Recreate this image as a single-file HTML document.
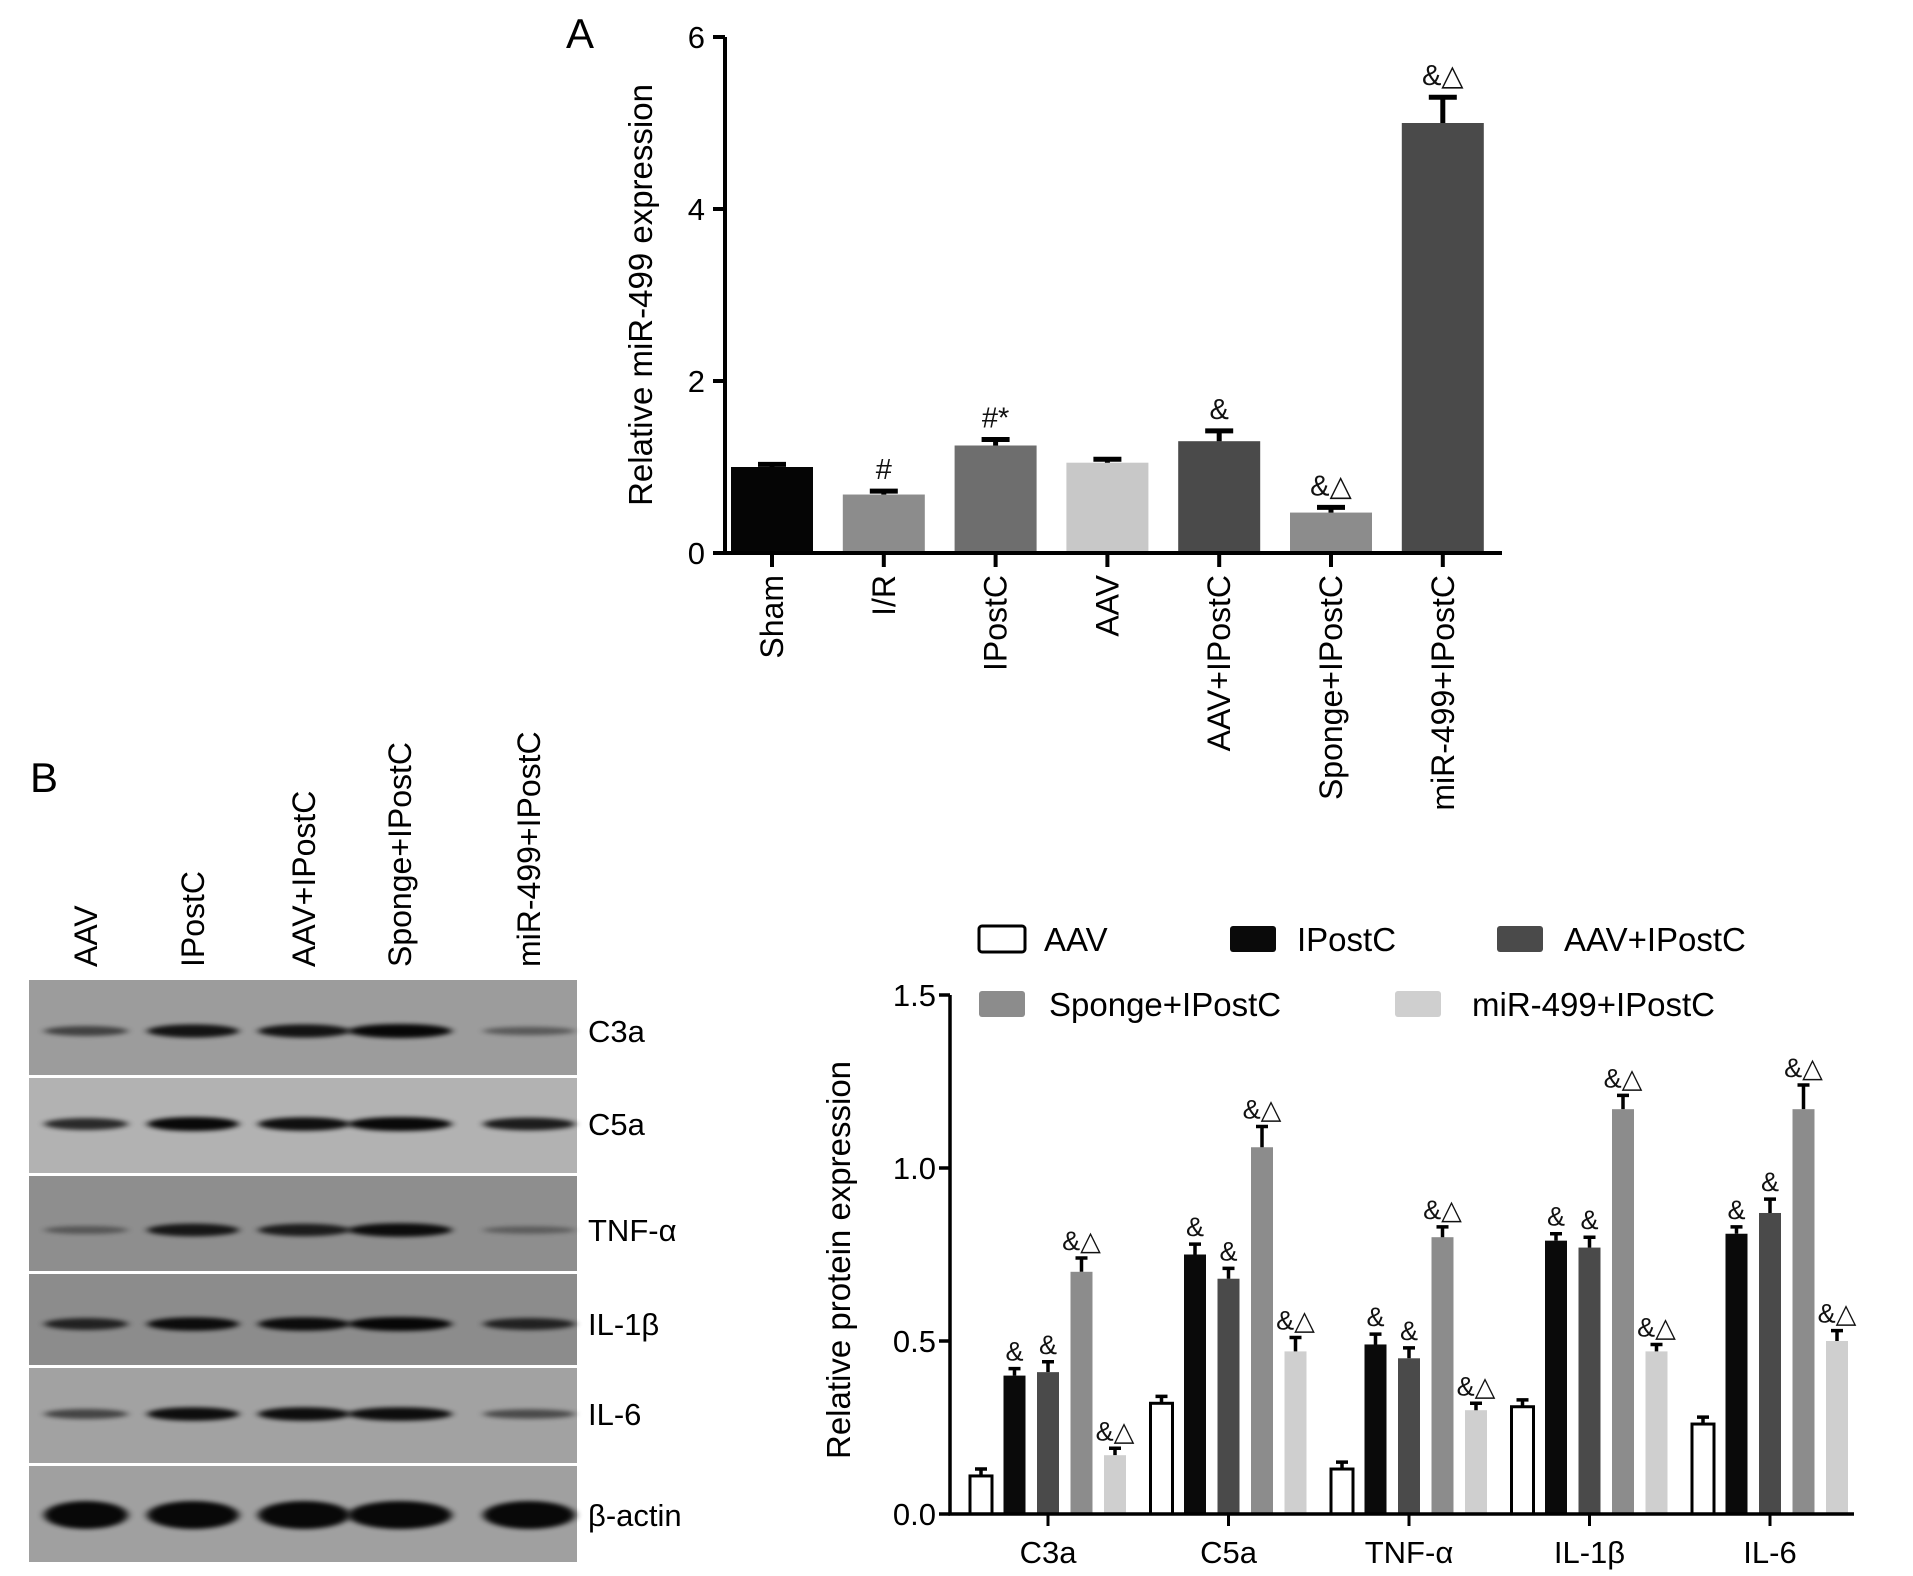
<!DOCTYPE html>
<html><head><meta charset="utf-8"><style>
html,body{margin:0;padding:0;background:#fff;}
svg{display:block;font-family:"Liberation Sans",sans-serif;}
</style></head><body>
<svg id="fig" width="1913" height="1576" viewBox="0 0 1913 1576">
<defs>
<filter id="blur" x="-20%" y="-100%" width="140%" height="300%"><feGaussianBlur stdDeviation="4 2"/></filter>
</defs>
<text x="566" y="48" font-size="42" fill="#000">A</text>
<text x="30" y="792" font-size="42" fill="#000">B</text>
<g id="chartA"></g>
<g id="blot"></g>
<g id="chartB"></g>
</svg>
<script>
const NS='http://www.w3.org/2000/svg';
function mk(parent,tag,attrs,text){const e=document.createElementNS(NS,tag);for(const k in attrs)e.setAttribute(k,attrs[k]);if(text!==undefined)e.textContent=text;parent.appendChild(e);return e;}

// ---- Chart A data ----
const catsA=['Sham','I/R','IPostC','AAV','AAV+IPostC','Sponge+IPostC','miR-499+IPostC'];
const valsA=[1.0,0.68,1.25,1.05,1.3,0.47,5.0];
const errsA=[0.03,0.04,0.07,0.04,0.12,0.06,0.3];
const marksA=['','#','#*','','&','&\u25B3','&\u25B3'];
const ticksA=[0,2,4,6];
const colorsA=['#050505','#8c8c8c','#6e6e6e','#c8c8c8','#4a4a4a','#8c8c8c','#4a4a4a'];

// ---- Chart B data ----
const catsB=['C3a','C5a','TNF-\u03B1','IL-1\u03B2','IL-6'];
const seriesB=['AAV','IPostC','AAV+IPostC','Sponge+IPostC','miR-499+IPostC'];
const vAAV=[0.11,0.32,0.13,0.31,0.26];
const vIPostC=[0.40,0.75,0.49,0.79,0.81];
const vAAVIPostC=[0.41,0.68,0.45,0.77,0.87];
const vSponge=[0.70,1.06,0.80,1.17,1.17];
const vMiR=[0.17,0.47,0.30,0.47,0.50];
const eAAV=[0.02,0.02,0.02,0.02,0.02];
const eIPostC=[0.02,0.03,0.03,0.02,0.02];
const eAAVIPostC=[0.03,0.03,0.03,0.03,0.04];
const eSponge=[0.04,0.06,0.03,0.04,0.07];
const eMiR=[0.02,0.04,0.02,0.02,0.03];
const mAAV=['','','','',''];
const mIPostC=['&','&','&','&','&'];
const mAAVIPostC=['&','&','&','&','&'];
const mSponge=['&\u25B3','&\u25B3','&\u25B3','&\u25B3','&\u25B3'];
const mMiR=['&\u25B3','&\u25B3','&\u25B3','&\u25B3','&\u25B3'];
const ticksB=['0.0','0.5','1.0','1.5'];
const fillsB=['#ffffff','#0a0a0a','#4a4a4a','#8c8c8c','#cfcfcf'];

// ---- Blot data ----
const lanes=['AAV','IPostC','AAV+IPostC','Sponge+IPostC','miR-499+IPostC'];
const proteins=['C3a','C5a','TNF-\u03B1','IL-1\u03B2','IL-6','\u03B2-actin'];
const bandC3a=[0.5,0.9,0.9,1.0,0.3];
const bandC5a=[0.75,1.0,0.95,1.0,0.85];
const bandTNF=[0.25,0.85,0.8,0.95,0.2];
const bandIL1b=[0.75,0.95,0.95,1.0,0.75];
const bandIL6=[0.5,0.95,0.95,0.95,0.45];
const bandActin=[1.0,1.0,1.0,1.0,1.0];

// ===== Chart A =====
(function(){
  const g=document.getElementById('chartA');
  const ax=725,y0=553,yTop=37,xEnd=1502,vmax=6;
  const y=v=>y0-(v/vmax)*(y0-yTop);
  const x=i=>772+i*111.8;
  const bw=82;
  catsA.forEach((c,i)=>{
    const cx=x(i),top=y(valsA[i]),et=y(valsA[i]+errsA[i]);
    const b=mk(g,'rect',{x:cx-bw/2,y:top,width:bw,height:y0-top,fill:colorsA[i]});
    
    
    const e=mk(g,'path',{d:`M${cx} ${top}V${et}M${cx-14} ${et}H${cx+14}`,stroke:'#000','stroke-width':5,fill:'none'});
    
    
    if(marksA[i]){const t=mk(g,'text',{x:cx,y:et-12,'font-size':29,'text-anchor':'middle',fill:'#111'},marksA[i]);
      
      }
    const tk=mk(g,'line',{x1:cx,y1:y0,x2:cx,y2:y0+14,stroke:'#000','stroke-width':4});
    
    
    const l=mk(g,'text',{x:0,y:0,'font-size':32,'text-anchor':'end',transform:`translate(${cx+11},${y0+22}) rotate(-90)`,fill:'#000'},c);
    
    
  });
  const axl=mk(g,'path',{d:`M${ax} ${yTop}V${y0}H${xEnd}`,stroke:'#000','stroke-width':4,fill:'none'});
  
  
  ticksA.forEach(v=>{
    const t=mk(g,'line',{x1:ax-12,y1:y(v),x2:ax,y2:y(v),stroke:'#000','stroke-width':4});
    
    
    const l=mk(g,'text',{x:ax-20,y:y(v)+11,'font-size':31,'text-anchor':'end',fill:'#000'},String(v));
    
    
  });
  const yt=mk(g,'text',{x:0,y:0,'font-size':33,'text-anchor':'middle',transform:'translate(652,295) rotate(-90)',fill:'#000'},'Relative miR-499 expression');
  
  
})();

// ===== Blot =====
(function(){
  const g=document.getElementById('blot');
  const strips=[[980,1075,'#9c9c9c'],[1078,1173,'#b2b2b2'],[1176,1271,'#8e8e8e'],[1274,1365,'#8c8c8c'],[1368,1463,'#a2a2a2'],[1466,1562,'#a0a0a0']];
  const bandY=[1031,1124,1230,1324,1414,1515];
  const bands=[bandC3a,bandC5a,bandTNF,bandIL1b,bandIL6,bandActin];
  const laneX=[86,193,304,400,529];
  const laneW=[76,84,84,96,84];
  strips.forEach((s,i)=>{
    const r=mk(g,'rect',{x:29,y:s[0],width:548,height:s[1]-s[0],fill:s[2]});
    
    
    bands[i].forEach((v,j)=>{
      const h=(i===5?20:6)+v*8;
      const e=mk(g,'ellipse',{cx:laneX[j],cy:bandY[i],rx:laneW[j]/2+4,ry:h/2,fill:'#000',opacity:0.2+0.75*v,filter:'url(#blur)'});
      
      
    });
    const l=mk(g,'text',{x:588,y:bandY[i]+11,'font-size':31,fill:'#000'},proteins[i]);
    
    
  });
  lanes.forEach((n,j)=>{
    const l=mk(g,'text',{x:0,y:0,'font-size':32,'text-anchor':'start',transform:`translate(${laneX[j]+11},${967}) rotate(-90)`,fill:'#000'},n);
    
    
  });
})();

// ===== Chart B =====
(function(){
  const g=document.getElementById('chartB');
  const ax=950,y0=1514,yTop=995,xEnd=1854,vmax=1.5;
  const y=v=>y0-(v/vmax)*(y0-yTop);
  const gx=i=>1048+i*180.5;
  const vals=[vAAV,vIPostC,vAAVIPostC,vSponge,vMiR];
  const errs=[eAAV,eIPostC,eAAVIPostC,eSponge,eMiR];
  const marks=[mAAV,mIPostC,mAAVIPostC,mSponge,mMiR];
  const bw=22,pitch=33.5;
  catsB.forEach((c,i)=>{
    seriesB.forEach((s,k)=>{
      const cx=gx(i)+(k-2)*pitch,v=vals[k][i],top=y(v),et=y(v+errs[k][i]);
      const b=mk(g,'rect',{x:cx-bw/2,y:top,width:bw,height:y0-top,fill:fillsB[k],stroke:k===0?'#000':'none','stroke-width':3});
      
      
      const e=mk(g,'path',{d:`M${cx} ${top}V${et}M${cx-6} ${et}H${cx+6}`,stroke:'#000','stroke-width':3.5,fill:'none'});
      
      
      if(marks[k][i]){const t=mk(g,'text',{x:cx,y:et-8,'font-size':27,'text-anchor':'middle',fill:'#111'},marks[k][i]);
        
        }
    });
    const tk=mk(g,'line',{x1:gx(i),y1:y0,x2:gx(i),y2:y0+12,stroke:'#000','stroke-width':3});
    
    
    const l=mk(g,'text',{x:gx(i),y:1563,'font-size':31,'text-anchor':'middle',fill:'#000'},c);
    
    
  });
  const axl=mk(g,'path',{d:`M${ax} ${yTop}V${y0}H${xEnd}`,stroke:'#000','stroke-width':3.5,fill:'none'});
  
  
  ticksB.forEach(t=>{
    const v=parseFloat(t);
    const tk=mk(g,'line',{x1:ax-11,y1:y(v),x2:ax,y2:y(v),stroke:'#000','stroke-width':3.5});
    
    
    const l=mk(g,'text',{x:ax-14,y:y(v)+11,'font-size':31,'text-anchor':'end',fill:'#000'},t);
    
    
  });
  const yt=mk(g,'text',{x:0,y:0,'font-size':33,'text-anchor':'middle',transform:'translate(850,1260) rotate(-90)',fill:'#000'},'Relative protein expression');
  
  
  const leg=[[979,939,1044],[1230,939,1297],[1497,939,1564],[979,1004,1049],[1395,1004,1472]];
  seriesB.forEach((s,k)=>{
    const L=leg[k];
    const sw=mk(g,'rect',{x:L[0],y:L[1]-13,width:46,height:26,rx:3,fill:fillsB[k],stroke:k===0?'#000':'none','stroke-width':3});
    
    
    const t=mk(g,'text',{x:L[2],y:L[1]+12,'font-size':33,fill:'#000'},s);
    
    
  });
})();
</script>
</body></html>
